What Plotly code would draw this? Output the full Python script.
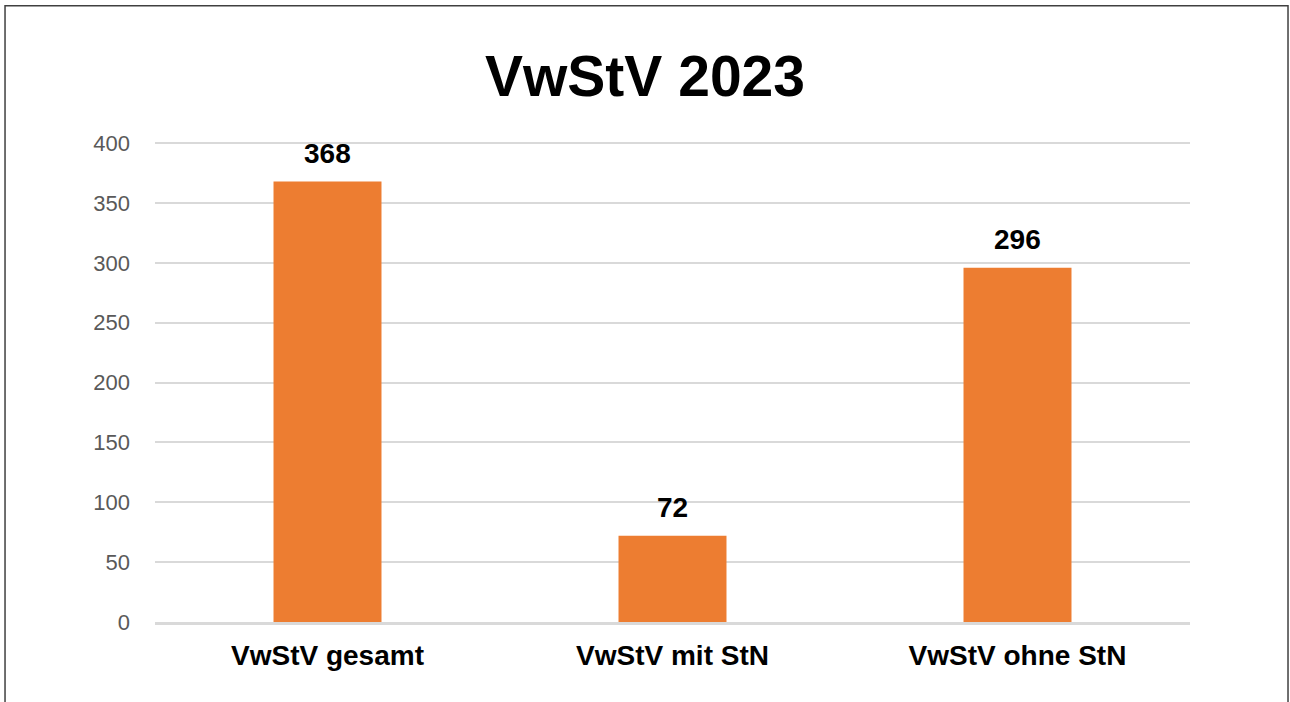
import plotly.graph_objects as go

categories = ["VwStV gesamt", "VwStV mit StN", "VwStV ohne StN"]
values = [368, 72, 296]
y_ticks = [0, 50, 100, 150, 200, 250, 300, 350, 400]
title_text = "VwStV 2023"

BAR_COLOR = "#ED7D31"
FONT = "Liberation Sans, Arial"

fig = go.Figure()
fig.add_trace(go.Bar(
    x=categories, y=values, marker=dict(color=BAR_COLOR, line=dict(width=0)),
    width=0.313, hoverinfo="x+y",
))

for c, v in zip(categories, values):
    fig.add_annotation(x=c, y=v, text=f"<b>{v}</b>", showarrow=False,
                       yanchor="bottom", yshift=11,
                       font=dict(family=FONT, size=28, color="#000000"))

fig.add_shape(type="rect", xref="paper", yref="paper",
              x0=-0.1449, x1=1.0947, y0=-0.25, y1=1.284,
              line=dict(color="#404040", width=1.5), fillcolor="rgba(0,0,0,0)", layer="above")

fig.update_layout(
    width=1290, height=702,
    margin=dict(l=155, r=100, t=142, b=80),
    paper_bgcolor="white", plot_bgcolor="white",
    showlegend=False,
    title=dict(text=f"<b>{title_text}</b>", x=0.5, xref="container", xanchor="center",
               y=1 - 76/702, yref="container", yanchor="middle",
               font=dict(family=FONT, size=57, color="#000000")),
)
fig.update_xaxes(
    tickfont=dict(family=FONT, size=28, color="#000000"),
    tickprefix="<b>", ticksuffix="</b>",
    showline=True, linecolor="#d9d9d9", linewidth=2.5,
    showgrid=False, ticks="", ticklabelstandoff=7,
)
fig.update_yaxes(
    range=[0, 401], tickvals=y_ticks, ticktext=[str(t) for t in y_ticks],
    tickfont=dict(family=FONT, size=22, color="#595959"),
    showgrid=True, gridcolor="#d9d9d9", gridwidth=1.5,
    zeroline=False, showline=False, ticks="", ticklabelstandoff=24,
)

fig.write_html("out.html", config={"displayModeBar": False},
               post_script="document.body.style.margin='0';document.body.style.overflow='hidden';")
